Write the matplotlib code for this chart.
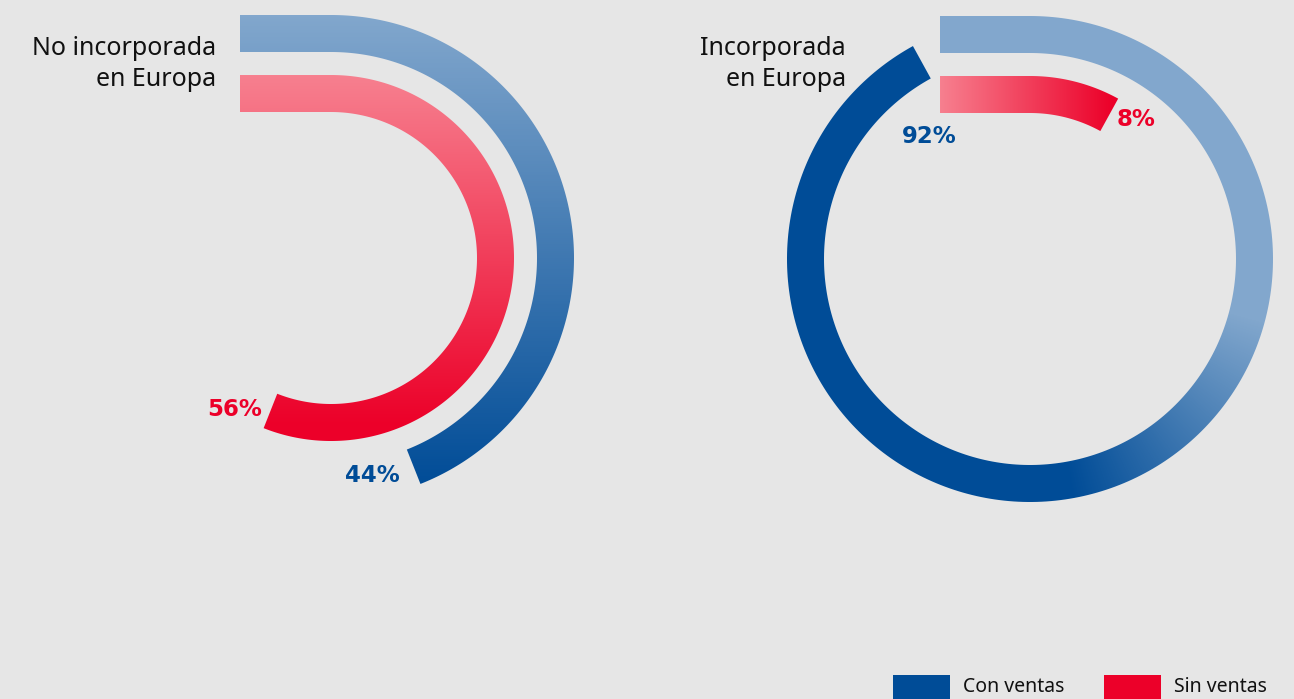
import numpy as np
import matplotlib.pyplot as plt
from matplotlib.path import Path
from matplotlib.patches import PathPatch, Rectangle
from matplotlib.colors import LinearSegmentedColormap

plt.rcParams['font.family'] = ['Noto Sans', 'DejaVu Sans']

# datos
grupos = ['No incorporada\nen Europa', 'Incorporada\nen Europa']
con_ventas = [44, 92]
sin_ventas = [56, 8]
series = ['Con ventas', 'Sin ventas']

W, H = 1294, 699
fondo = '#e6e6e6'
azul_claro, azul = '#82a7cd', '#004c97'
rosa, rojo = '#f7808f', '#ec0029'

centros = [(331, 258), (1030, 259)]
x_inicio = [240, 940]
x_titulo = [216, 846]
r_azul = (206, 243)
r_rojo = (146, 183)


def banda(cx, cy, x0, r_in, r_out, pct):
    # tramo recto desde x0 hasta el centro y luego arco en sentido horario
    ang = np.radians(np.linspace(0, 360 * pct / 100, 300))
    ext = np.column_stack([cx + r_out * np.sin(ang), cy - r_out * np.cos(ang)])
    inn = np.column_stack([cx + r_in * np.sin(ang), cy - r_in * np.cos(ang)])[::-1]
    pts = np.vstack([[x0, cy - r_out], ext, inn, [x0, cy - r_in], [x0, cy - r_out]])
    return Path(pts, closed=True)


def extremo(cx, cy, r, pct):
    a = np.radians(360 * pct / 100)
    return cx + r * np.sin(a), cy - r * np.cos(a)


yy, xx = np.mgrid[0:H, 0:W] + 0.5


def pintar(ax, path, t, c0, c1):
    cmap = LinearSegmentedColormap.from_list('grad', [c0, c1])
    im = ax.imshow(np.clip(t, 0, 1), cmap=cmap, vmin=0, vmax=1,
                   extent=(0, W, H, 0), interpolation='bilinear', zorder=2)
    patch = PathPatch(path, facecolor='none', edgecolor='none')
    ax.add_patch(patch)
    im.set_clip_path(patch)


fig = plt.figure(figsize=(W / 100, H / 100), dpi=100)
fig.patch.set_facecolor(fondo)
ax = fig.add_axes([0, 0, 1, 1])
ax.set_facecolor(fondo)

# grafico izquierdo: degradados verticales
cx, cy = centros[0]
p = banda(cx, cy, x_inicio[0], *r_azul, con_ventas[0])
pintar(ax, p, (yy - 15) / (487 - 15), azul_claro, azul)
p = banda(cx, cy, x_inicio[0], *r_rojo, sin_ventas[0])
pintar(ax, p, (yy - 75) / (425 - 75), rosa, rojo)

# grafico derecho: azul con degradado angular, rojo horizontal
cx, cy = centros[1]
p = banda(cx, cy, x_inicio[1], *r_azul, con_ventas[1])
ang = np.degrees(np.arctan2(xx - cx, cy - yy)) % 360
t = (ang - 105) / 65
t[(xx >= x_inicio[1] - 2) & (xx <= cx) & (yy < cy - r_azul[0] + 2)] = 0
pintar(ax, p, t, azul_claro, azul)
p = banda(cx, cy, x_inicio[1], *r_rojo, sin_ventas[1])
pintar(ax, p, (xx - x_inicio[1]) / (1113 - x_inicio[1]), rosa, rojo)

# titulos de cada grafico
for xt, g in zip(x_titulo, grupos):
    ax.text(xt, 64, g, ha='right', va='center', fontsize=18,
            color='#111111', linespacing=1.35)

# etiquetas de porcentaje
etiq = dict(fontsize=16.5, fontweight='bold', family='DejaVu Sans', va='center')
x, y = extremo(*centros[0], 225, con_ventas[0])
ax.text(x - 14, y + 8, f'{con_ventas[0]}%', ha='right', color=azul, **etiq)
x, y = extremo(*centros[0], 165, sin_ventas[0])
ax.text(x - 8, y - 2, f'{sin_ventas[0]}%', ha='right', color=rojo, **etiq)
x, y = extremo(*centros[1], 165, sin_ventas[1])
ax.text(x + 7, y + 5, f'{sin_ventas[1]}%', ha='left', color=rojo, **etiq)
x, y = extremo(*centros[1], 206, con_ventas[1])
ax.text(x - 2, y + 58, f'{con_ventas[1]}%', ha='center', color=azul, **etiq)

# leyenda
for x0, c, s in zip([893, 1104], [azul, rojo], series):
    ax.add_patch(Rectangle((x0, 675), 57, 30, facecolor=c, edgecolor='none'))
    ax.text(x0 + 70, 687, s, ha='left', va='center', fontsize=14,
            color='#111111')

ax.set_xlim(0, W)
ax.set_ylim(H, 0)
ax.axis('off')
fig.savefig('out.png', dpi=100, facecolor=fondo)
